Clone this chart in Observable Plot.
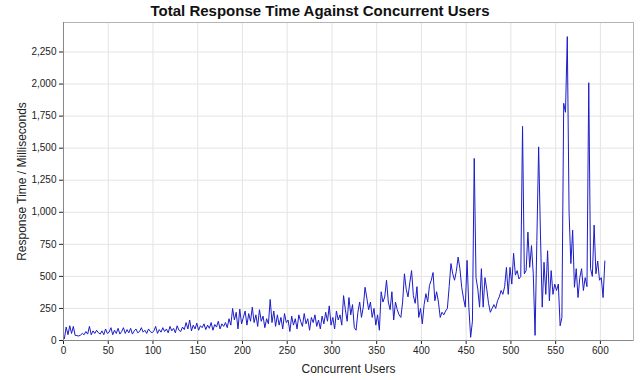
<!DOCTYPE html>
<html><head><meta charset="utf-8">
<script src="https://cdn.jsdelivr.net/npm/d3@7"></script>
<script src="https://cdn.jsdelivr.net/npm/@observablehq/plot@0.6"></script>
<style>
body{margin:0;background:#fff;font-family:"Liberation Sans",Arial,sans-serif;}
#title{height:20px;line-height:22px;text-align:center;font-weight:bold;font-size:15px;color:#111;white-space:nowrap;width:640px;}
svg{display:block;}
</style></head><body>
<div id="title"></div>
<div id="chart"></div>
<script>
const chartTitle = "Total Response Time Against Concurrent Users";
const xLabel = "Concurrent Users";
const yLabel = "Response Time / Milliseconds";
const xTicks = [0,50,100,150,200,250,300,350,400,450,500,550,600];
const yTicks = [0,250,500,750,1000,1250,1500,1750,2000,2250];
// response time (ms) sampled every 2 concurrent users, starting at 1 user
const responseTimes = [
  15,105,45,115,55,110,40,38,35,42,
  55,45,70,50,110,45,75,55,80,60,
  50,75,45,90,55,65,100,45,80,55,
  95,50,70,100,55,85,60,95,50,75,
  90,60,70,100,65,80,55,90,70,60,
  75,110,55,85,65,100,70,90,60,110,
  75,95,60,115,80,70,105,85,140,90,
  160,75,120,90,135,80,115,100,130,85,
  120,95,140,80,125,105,150,90,130,110,
  140,100,170,120,250,160,220,90,245,130,
  180,230,120,210,150,260,140,200,110,240,
  150,190,100,170,130,320,140,230,110,200,
  120,180,90,210,140,160,70,190,120,170,
  90,200,150,110,210,130,170,80,180,140,
  200,110,160,90,190,130,220,150,270,120,
  180,90,230,160,200,120,350,240,150,335,
  200,280,100,80,220,300,180,260,415,330,
  240,300,180,250,120,200,80,380,300,340,
  470,300,240,380,160,300,240,200,180,300,
  520,400,340,450,545,350,290,420,180,250,
  130,280,365,300,430,470,530,310,380,300,
  180,220,200,230,250,420,600,520,470,540,
  650,560,415,330,260,625,260,25,150,1420,
  490,400,260,560,260,490,400,290,220,250,
  280,250,310,340,390,360,420,570,360,570,
  440,680,510,545,480,500,1670,520,545,845,
  570,740,520,40,780,1510,830,260,610,360,
  700,310,545,360,440,390,440,115,180,1850,
  1780,2370,1000,600,860,415,560,335,490,560,
  390,490,420,2010,560,500,900,520,620,470,
  490,335,620
];
const users = responseTimes.map((_, i) => 1 + 2 * i);
const data = users.map((u, i) => ({users: u, ms: responseTimes[i]}));

document.getElementById("title").textContent = chartTitle;
const fmt = d3.format(",");
const chart = Plot.plot({
  width: 640,
  height: 360,
  marginTop: 2,
  marginLeft: 63,
  marginRight: 7,
  marginBottom: 40,
  style: {fontFamily: "'Liberation Sans', Arial, sans-serif", fontSize: "10px", color: "#222", background: "#fff"},
  x: {domain: [0, 637], ticks: xTicks, label: xLabel, labelAnchor: "center", labelArrow: "none", labelOffset: 32, tickSize: 4, tickPadding: 2, tickFormat: fmt},
  y: {domain: [0, 2480], ticks: yTicks, label: yLabel, labelAnchor: "center", labelArrow: "none", labelOffset: 46, tickSize: 4, tickPadding: 3, tickFormat: fmt},
  marks: [
    Plot.gridX(xTicks, {stroke: "#e4e4e4", strokeOpacity: 1}),
    Plot.gridY(yTicks, {stroke: "#e4e4e4", strokeOpacity: 1}),
    Plot.frame({stroke: "#b4b4b4"}),
    Plot.ruleX([0], {stroke: "#888"}),
    Plot.ruleY([0], {stroke: "#888"}),
    Plot.lineY(data, {x: "users", y: "ms", stroke: "#1c1cc8", strokeWidth: 1})
  ]
});
document.getElementById("chart").appendChild(chart);
chart.querySelectorAll("[aria-label='x-axis label'] text, [aria-label='y-axis label'] text").forEach(t => t.style.fontSize = "12px");
</script>
</body></html>
